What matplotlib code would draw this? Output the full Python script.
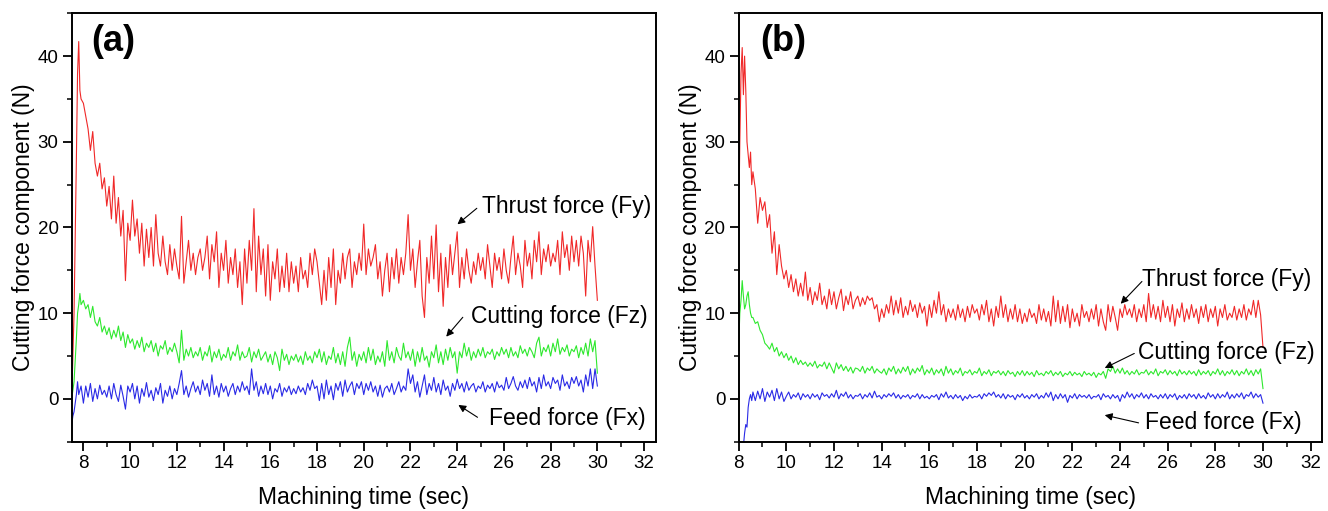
import numpy as np
import matplotlib
matplotlib.use("Agg")
import matplotlib.pyplot as plt
from matplotlib.ticker import MultipleLocator

plt.rcParams['font.family'] = ['Liberation Sans', 'DejaVu Sans']

# ---------------- Panel (a) data ----------------
a_step = 0.1
# Thrust force Fy
a_fy_head_t = [7.5, 7.6, 7.7, 7.75, 7.8, 7.85, 7.9]
a_fy_head_y = [0.0, 10.0, 28.0, 38.0, 41.7, 36.0, 35.0]
a_fy_start = 8.0
a_fy = [
    34.5, 33.0, 31.5, 29.0, 31.2, 27.5, 26.0, 27.5, 24.5, 25.8,
    22.5, 24.8, 21.0, 26.0, 20.5, 23.5, 19.0, 22.0, 13.8, 20.5,
    18.5, 23.2, 19.0, 21.0, 17.0, 20.5, 15.5, 19.8, 16.5, 20.0,
    15.5, 21.5, 17.0, 15.5, 19.0, 16.0, 14.5, 18.0, 15.0, 17.5,
    15.5, 14.0, 21.3, 13.5, 16.0, 18.5, 15.0, 17.0, 14.5, 16.5,
    17.5, 15.0, 16.5, 19.0, 14.0, 18.0, 16.0, 19.5, 13.0, 17.0,
    15.0, 18.5, 13.5, 16.5, 14.5, 17.5, 13.0, 16.0, 11.0, 17.5,
    13.5, 18.5, 15.0, 22.2, 12.5, 19.0, 14.5, 17.5, 12.0, 18.0,
    11.5, 16.0, 14.0, 17.5, 12.5, 15.5, 13.0, 17.0, 12.5, 16.0,
    13.5, 15.5, 12.5, 16.5, 14.0, 15.0, 13.0, 17.0, 14.5, 17.5,
    16.0, 13.5, 11.0, 15.0, 11.5, 16.5, 13.0, 17.5, 11.0, 15.0,
    13.5, 17.0, 14.0, 16.5, 17.5, 13.0, 16.0, 14.5, 17.0, 15.0,
    20.4, 14.5, 17.5, 15.5, 16.5, 18.0, 14.0, 16.0, 12.0, 15.0,
    17.0, 12.5, 16.5, 14.0, 17.5, 13.5, 16.5, 14.5, 17.0, 21.5,
    15.0, 17.5, 13.0, 16.0, 18.5, 12.0, 9.5, 16.5, 13.5, 19.0,
    14.0, 20.3, 12.5, 17.0, 10.8, 16.5, 13.0, 18.0, 14.5, 17.0,
    19.5, 13.0, 16.5, 14.0, 17.5, 15.0, 13.5, 16.0, 14.5, 17.0,
    15.0, 16.5, 14.0, 18.0, 15.5, 13.0, 17.0, 15.0, 16.5, 14.0,
    17.5, 15.0, 13.5, 16.5, 19.0, 14.5, 17.0, 15.5, 13.0, 18.5,
    15.5, 17.0, 14.0, 18.5, 16.0, 19.5, 14.5, 17.5, 16.0, 18.0,
    15.5, 17.0, 16.0, 18.5, 14.5, 19.5, 16.5, 18.0, 15.0, 19.0,
    16.0, 18.5, 15.5, 19.0, 17.0, 12.0, 18.5, 16.0, 20.1, 15.5,
    11.5]
# Cutting force Fz
a_fz_head_t = [7.5, 7.6, 7.7, 7.75, 7.8, 7.85, 7.9]
a_fz_head_y = [0.0, 2.0, 7.0, 10.0, 11.0, 12.3, 11.0]
a_fz_start = 8.0
a_fz = [
    11.5, 10.5, 11.0, 9.5, 10.8, 9.0, 8.5, 9.5, 7.8, 8.5,
    7.5, 8.3, 7.0, 8.0, 7.2, 8.5, 6.8, 7.8, 6.0, 7.5,
    6.5, 7.0, 5.8, 6.8, 6.0, 7.2, 5.5, 6.5, 6.0, 6.8,
    5.5, 6.5, 5.0, 6.2, 5.8, 6.8, 5.2, 6.0, 5.5, 6.5,
    5.5, 4.2, 8.0, 4.5, 5.8, 5.0, 6.0, 4.8, 5.5, 5.0,
    6.0, 4.5, 5.5, 5.0, 6.2, 4.3, 5.5, 4.8, 5.8, 4.5,
    5.2, 4.8, 6.0, 4.5, 5.5, 5.0, 6.3, 4.5, 5.5, 4.8,
    5.0, 6.0, 4.3, 5.5, 4.8, 5.8, 4.5, 5.0, 5.5, 4.3,
    5.2, 4.0, 5.5, 4.8, 3.3, 5.8, 4.5, 5.2, 4.0, 5.0,
    4.5, 5.2, 4.3, 5.0, 4.0, 5.5, 4.5, 5.0, 4.2, 5.5,
    4.8, 5.8, 4.3, 5.5, 4.0, 5.0, 4.6, 6.0, 4.2, 5.3,
    4.0, 5.5, 3.8, 6.0, 7.2, 4.5, 5.5, 3.8, 5.2, 4.5,
    5.5, 4.2, 6.0, 4.5, 5.8, 4.0, 5.0, 4.3, 5.5, 3.8,
    6.8, 4.5, 5.5, 4.2, 6.0, 5.0, 4.5, 6.5, 4.8, 5.5,
    4.5, 5.8, 3.8, 5.5, 4.3, 6.0, 4.5, 5.0, 3.7, 5.5,
    4.8, 6.3, 4.2, 5.5, 4.0, 5.8, 4.5, 6.0, 4.8, 5.5,
    3.0, 5.5, 4.8, 6.5, 5.0, 6.0, 4.5, 5.5, 4.8, 5.8,
    5.0, 6.0, 4.8, 5.5, 5.2, 5.8, 4.6, 5.5, 5.0, 6.0,
    5.2, 5.8, 4.8, 6.0, 5.0, 5.5, 4.8, 6.2, 5.3, 5.8,
    5.0, 6.0, 5.5, 4.8, 6.5, 7.2, 5.0, 6.0, 5.5, 6.3,
    5.0, 6.5, 5.5, 7.0, 5.2, 6.0, 5.5, 6.3, 5.0, 5.8,
    5.5, 6.2, 4.8, 6.0, 5.2, 6.5, 5.0, 7.0, 5.5, 6.8,
    3.0]
# Feed force Fx
a_fx_head_t = [7.5, 7.55, 7.6, 7.65, 7.7, 7.75, 7.8, 7.9]
a_fx_head_y = [-3.0, -2.0, -1.5, -0.5, 0.5, 2.0, 0.5, 1.5]
a_fx_start = 8.0
a_fx = [
    -0.5, 1.5, 0.2, 1.8, -0.3, 1.2, 0.0, 1.6, 0.5, 1.0,
    0.2, 1.5, 0.0, 1.8, 0.5, -0.3, 1.6, 0.3, -1.2, 1.5,
    0.8, 1.8, 0.0, 1.5, -0.5, 1.2, 0.3, 1.9, 0.2, 1.0,
    -0.2, 1.3, 0.5, 1.8, -0.5, 1.0, 0.3, 1.5, 0.0, 1.2,
    0.5, 1.8, 3.3, 0.5, 1.5, 0.2, 1.2, 2.0, 0.8, 1.5,
    0.5, 2.2, 1.0, 1.8, 0.3, 2.8, 0.5, 1.5, 0.2, 1.8,
    0.8, 1.5, 0.3, 1.2, 1.8, 0.5, 1.5, 0.8, 2.0, 1.0,
    1.5, 0.5, 3.5, 1.0, 2.0, 0.3, 1.5, 0.6, 1.8, 0.5,
    1.5, 0.0, 1.2, 0.8, 1.8, 0.3, 1.3, 0.8, 1.5, 0.5,
    1.2, 0.6, 1.5, 0.8, 1.3, 0.5, 1.8, 1.0, 2.2, 1.2,
    1.5, -0.2, 1.8, 0.0, 2.2, 0.5, 1.5, -0.1, 1.8, 1.0,
    2.0, 0.3, 2.2, 0.8, 1.5, 2.0, 0.5, 1.8, 1.2, 2.0,
    0.5, 1.8, 1.0, 2.0, 0.8, 1.5, 0.3, 1.6, 0.2, 1.2,
    1.5, 0.8, 1.8, 0.5, 1.2, 2.0, 0.8, 1.5, 1.0, 3.5,
    1.8, 2.8, 0.8, 2.0, 0.2, 1.5, 2.8, 0.5, 1.8, 1.0,
    2.5, 0.8, 1.8, 0.5, 2.2, 1.0, 1.5, 0.3, 1.8, 1.0,
    2.3, 1.2, 1.8, 0.8, 2.0, 1.0, 1.5, 1.8, 0.8, 1.5,
    1.2, 2.0, 0.8, 1.6, 1.2, 1.8, 0.8, 2.0, 1.3, 1.6,
    1.0, 2.5, 1.2, 1.8, 2.6, 1.5, 1.0, 2.0, 1.3, 2.2,
    1.2, 2.5, 1.5, 2.0, 0.8, 2.5, 1.2, 2.8, 1.5, 2.0,
    1.2, 2.5, 1.8, 2.2, 1.0, 2.8, 1.5, 2.0, 1.2, 2.5,
    1.8, 2.6, 1.5, 2.2, 0.8, 2.8, 1.5, 3.5, 1.2, 3.5,
    1.5]

# ---------------- Panel (b) data ----------------
b_step = 0.1
b_fy_head_t = [8.0, 8.05, 8.1, 8.15, 8.2, 8.25, 8.3, 8.35, 8.4, 8.45, 8.5, 8.55]
b_fy_head_y = [20.0, 30.0, 38.0, 41.0, 35.5, 40.0, 36.0, 30.0, 28.5, 27.0, 28.8, 25.0]
b_fy_start = 8.6
b_fy = [
    26.5, 24.5, 20.5, 23.5,
    22.0, 23.0, 20.0, 21.5, 17.0, 19.5, 14.5, 18.0, 15.5, 14.0,
    15.0, 13.0, 14.5, 12.5, 14.0, 12.0, 13.5, 12.0, 14.8, 11.5,
    13.0, 11.0, 12.5, 11.5, 13.5, 11.0, 12.0, 10.5, 12.8, 11.0,
    12.5, 10.5, 11.8, 12.8, 10.3, 12.0, 11.0, 12.5, 10.5, 11.5,
    12.0, 10.8, 11.8, 11.0, 12.0, 11.5, 11.8, 10.5, 11.0, 9.0,
    10.5, 9.5, 11.0, 10.0, 12.0, 9.8, 11.5, 10.0, 11.8, 9.5,
    10.8, 9.8, 11.5, 10.2, 11.0, 9.5, 11.2, 10.0, 10.8, 8.5,
    11.0, 9.5, 11.5, 10.0, 12.5, 9.8, 11.0, 9.0, 10.5, 9.5,
    10.5, 9.2, 11.0, 9.5, 10.5, 9.0, 10.8, 9.5, 11.0, 10.0,
    10.5, 9.2, 11.0, 9.8, 11.5, 9.0, 10.5, 8.5, 10.8, 9.5,
    12.0, 9.5, 11.0, 9.0, 10.5, 9.3, 11.0, 9.0, 10.5, 8.8,
    10.0, 9.0, 10.5, 9.5, 10.0, 8.8, 11.0, 9.2, 10.5, 9.0,
    10.2, 8.5, 12.0, 9.0, 11.5, 8.8, 10.8, 9.0, 11.0, 8.3,
    10.5, 9.0, 10.0, 8.5, 11.0, 9.5, 10.2, 9.0, 10.5, 9.3,
    11.0, 8.5, 10.5, 9.0, 8.0, 11.0, 9.0, 10.8, 9.5, 8.0,
    10.5, 9.5, 11.0, 9.8, 10.5, 9.5, 11.0, 9.0, 10.5, 9.5,
    11.0, 9.0, 12.3, 9.5, 11.0, 9.3, 10.8, 9.0, 11.5, 9.5,
    10.8, 9.0, 11.0, 8.5, 10.5, 9.5, 11.2, 9.0, 10.5, 9.3,
    11.0, 9.5, 10.5, 8.8, 10.8, 9.5, 11.0, 9.0, 10.5, 9.5,
    10.8, 8.5, 10.5, 9.5, 11.0, 9.2, 10.0, 9.5, 10.8, 9.2,
    10.5, 9.5, 11.0, 9.2, 10.5, 9.8, 11.5, 9.5, 11.5, 9.8,
    6.0]
b_fz_head_t = [8.0, 8.05, 8.1, 8.15, 8.2, 8.25, 8.3, 8.35, 8.4, 8.45, 8.5, 8.55]
b_fz_head_y = [6.0, 10.0, 11.5, 13.8, 12.0, 10.5, 11.0, 12.0, 12.5, 11.0, 10.0, 9.5]
b_fz_start = 8.6
b_fz = [
    9.5, 8.8, 9.0, 8.0,
    7.5, 6.5, 6.2, 5.8, 6.5, 5.5, 6.0, 5.0, 5.5, 4.8,
    5.3, 4.5, 5.0, 4.2, 4.8, 4.0, 4.5, 4.0, 4.3, 3.8,
    4.2, 3.8, 4.4, 3.6, 4.0, 3.8, 4.3, 3.5, 4.2, 3.6,
    3.0, 4.2, 3.5, 4.0, 3.3, 3.8, 3.2, 3.7, 3.0, 3.6,
    3.5, 3.2, 3.8, 3.0, 3.6, 3.3, 3.8, 3.0, 3.5, 3.2,
    3.0, 3.5, 2.8, 3.6, 3.2, 3.8, 2.9, 3.5, 3.0, 3.7,
    3.2, 3.8, 2.8, 3.5, 3.0, 3.6, 3.2, 3.9, 2.8, 3.4,
    3.0, 3.6, 2.8, 3.4, 3.0, 3.5, 2.7, 3.8, 3.0, 3.5,
    2.8, 3.3, 3.0, 3.6, 2.7, 3.2, 3.0, 3.4, 2.8, 3.2,
    3.0, 3.6, 2.7, 3.2, 2.9, 3.4, 2.7, 3.2, 3.0, 3.3,
    2.8, 3.2, 2.7, 3.3, 2.9, 3.1, 2.6, 3.2, 2.8, 3.3,
    2.7, 3.2, 2.8, 3.1, 2.6, 3.3, 2.8, 3.0, 2.7, 3.2,
    2.9, 3.3, 2.7, 3.1, 2.8, 3.2, 2.6, 3.0, 2.8, 3.2,
    2.7, 3.1, 2.8, 3.0, 2.6, 3.2, 2.8, 3.0, 2.7, 3.1,
    2.5, 3.0, 2.8, 3.2, 2.4, 3.5, 3.2, 3.8, 3.0, 3.5,
    3.0, 3.6, 2.9, 3.3, 2.8, 3.2, 2.9, 3.4, 2.8, 3.1,
    3.0, 3.4, 2.8, 3.2, 2.9, 3.5, 2.7, 3.2, 3.0, 3.4,
    2.8, 3.3, 2.9, 3.2, 2.7, 3.4, 2.9, 3.2, 2.8, 3.3,
    2.9, 3.2, 2.7, 3.4, 2.8, 3.2, 2.9, 3.3, 2.7, 3.2,
    2.9, 3.5, 2.8, 3.3, 2.7, 3.2, 2.9, 3.4, 2.8, 3.3,
    2.7, 3.2, 2.9, 3.5, 2.8, 3.3, 2.7, 3.4, 2.9, 3.5,
    1.2]
b_fx_head_t = [8.2, 8.25, 8.3, 8.35, 8.4, 8.45, 8.5, 8.55]
b_fx_head_y = [-5.5, -4.0, -3.0, -3.3, -1.0, 0.0, 0.5, -0.2]
b_fx_start = 8.6
b_fx = [
    0.8, -0.2, 0.9, 0.0,
    1.2, -0.3, 0.8, 0.2, 1.0, -0.2, 1.2, 0.0, 0.8, -0.3,
    0.3, 0.8, 0.0, 0.5, 0.2, 0.7, -0.1, 0.6, 0.2, 0.5,
    0.0, 0.6, 0.2, 0.5, -0.1, 0.7, 0.3, 0.5, 0.1, 0.6,
    0.2, 1.0, 0.0, 0.6, 0.3, 0.8, 0.1, 0.5, 0.0, 0.4,
    0.3, 0.6, 0.0, 0.5, 0.2, 0.7, 0.1, 0.9, 0.2, 0.4,
    0.0, 0.5, 0.2, 0.6, 0.3, 0.7, 0.1, 0.5, 0.0, 0.4,
    0.2, 0.5, 0.0, 0.4, 0.2, 0.6, 0.0, 0.5, 0.1, 0.3,
    0.0, 0.4, 0.2, 0.5, -0.1, 0.6, 0.2, 0.8, 0.1, 0.4,
    0.0, 0.5, 0.1, 0.4, -0.2, 0.3, 0.0, 0.5, 0.1, 0.3,
    0.2, 0.5, 0.0, 0.6, 0.3, 0.7, 0.4, 0.8, 0.2, 0.5,
    0.1, 0.6, 0.0, 0.5, 0.2, 0.4, -0.1, 0.5, 0.2, 0.6,
    0.1, 0.4, 0.0, 0.5, 0.2, 0.6, 0.0, 0.4, 0.1, 0.7,
    0.2, 0.8, -0.2, 0.5, 0.0, 0.6, 0.1, 0.5, -0.4, 0.4,
    0.1, 0.6, 0.0, 0.5, 0.2, 0.4, 0.1, 0.5, 0.0, 0.3,
    0.2, 0.5, -0.1, 0.6, 0.2, 0.4, 0.0, 0.5, 0.1, 0.4,
    -0.3, 0.5, 0.1, 0.8, 0.2, 0.6, 0.0, 0.5, 0.2, 0.7,
    0.1, 0.5, 0.0, 0.6, 0.2, 0.4, 0.0, 0.5, 0.1, 0.6,
    0.0, 0.5, 0.2, 0.6, -0.1, 0.4, 0.1, 0.5, 0.0, 0.6,
    0.2, 0.5, 0.0, 0.6, 0.1, 0.4, 0.0, 0.7, 0.2, 0.5,
    0.0, 0.6, 0.1, 0.5, 0.2, 0.8, 0.0, 0.5, 0.1, 0.6,
    0.2, 0.7, 0.0, 0.5, 0.3, 0.8, 0.1, 0.6, 0.2, 0.5,
    -0.5]

labels = ["Thrust force (Fy)", "Cutting force (Fz)", "Feed force (Fx)"]
panel_tags = ["(a)", "(b)"]
x_label = "Machining time (sec)"
y_label = "Cutting force component (N)"

RED, GREEN, BLUE = '#f02828', '#2ee82e', '#2a2ae6'


def series(head_t, head_y, start, step, vals):
    body_t = start + step * np.arange(len(vals))
    return (np.concatenate([head_t, body_t]),
            np.concatenate([head_y, vals]))


fig = plt.figure(figsize=(13.28, 5.11), dpi=100)
ax_a = fig.add_axes([0.0540, 0.1356, 0.4398, 0.8384])
ax_b = fig.add_axes([0.5562, 0.1356, 0.4390, 0.8384])

panels = [
    (ax_a, [(a_fy_head_t, a_fy_head_y, a_fy_start, a_step, a_fy, RED),
            (a_fz_head_t, a_fz_head_y, a_fz_start, a_step, a_fz, GREEN),
            (a_fx_head_t, a_fx_head_y, a_fx_start, a_step, a_fx, BLUE)],
     (7.5, 32.5),
     [((25.06, 22.5), (24.84, 22.24), (24.01, 20.37)),
      ((24.58, 9.6), (24.24, 9.52), (23.53, 7.26)),
      ((25.38, -2.26), (24.87, -2.15), (24.05, -0.71))],
     0.034),
    (ax_b, [(b_fy_head_t, b_fy_head_y, b_fy_start, b_step, b_fy, RED),
            (b_fz_head_t, b_fz_head_y, b_fz_start, b_step, b_fz, GREEN),
            (b_fx_head_t, b_fx_head_y, b_fx_start, b_step, b_fx, BLUE)],
     (8.0, 32.46),
     [((24.92, 13.9), (24.92, 13.7), (24.03, 11.1)),
      ((24.74, 5.4), (24.6, 5.3), (23.36, 3.6)),
      ((25.04, -2.8), (24.78, -2.8), (23.36, -1.9))],
     0.0365),
]

for i, (ax, ser, xl, ann, tagx) in enumerate(panels):
    for ht, hy, st, sp, v, c in ser:
        t, y = series(ht, hy, st, sp, v)
        ax.plot(t, y, color=c, lw=0.8)
    ax.set_xlim(*xl)
    ax.set_ylim(-5, 45)
    ax.xaxis.set_major_locator(MultipleLocator(2))
    ax.xaxis.set_minor_locator(MultipleLocator(1))
    ax.yaxis.set_minor_locator(MultipleLocator(5))
    ax.set_yticks([0, 10, 20, 30, 40])
    ax.tick_params(which='major', direction='out', length=6.5, width=1.3,
                   labelsize=13.5, pad=3)
    ax.tick_params(which='minor', direction='out', length=3.6, width=1.1)
    for s in ax.spines.values():
        s.set_linewidth(1.4)
    ax.set_xlabel(x_label, fontsize=16.5, labelpad=10)
    ax.set_ylabel(y_label, fontsize=16.5, labelpad=2)
    ax.text(tagx, 0.935, panel_tags[i], transform=ax.transAxes,
            fontsize=26, fontweight='bold', ha='left', va='center')
    for lab, (tp, tail, tip) in zip(labels, ann):
        ax.text(tp[0], tp[1], lab, fontsize=16.5, ha='left', va='center')
        ax.annotate('', xy=tip, xytext=tail,
                    arrowprops=dict(arrowstyle='-|>', color='black', lw=0.8,
                                    mutation_scale=11, shrinkA=0, shrinkB=0))

fig.savefig('out.png', dpi=100)
